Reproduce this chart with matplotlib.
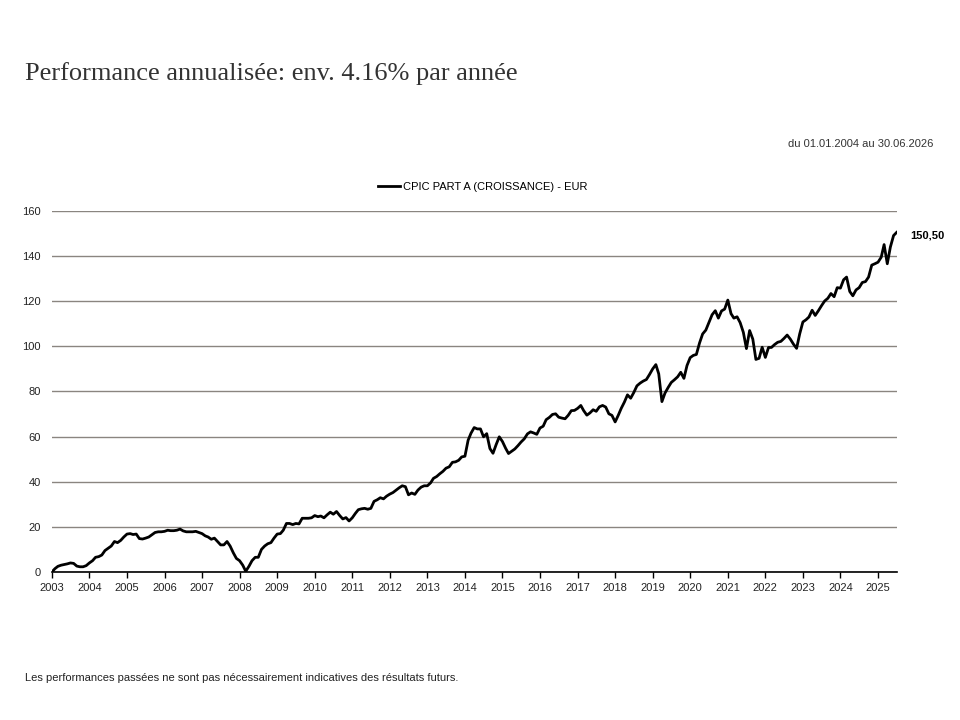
import numpy as np
import pandas as pd
import matplotlib
matplotlib.use("Agg")
import matplotlib.pyplot as plt
import matplotlib.dates as mdates

# monthly values, Jan 2003 .. Jul 2025
v2003 = [0.0, 1.5, 2.5, 3.0, 3.3, 3.6, 4.0, 3.8, 2.6, 2.3, 2.3, 2.8]
v2004 = [4.0, 5.0, 6.5, 6.8, 7.5, 9.5, 10.5, 11.5, 13.5, 13.0, 14.0, 15.5]
v2005 = [16.8, 17.0, 16.6, 16.8, 14.8, 14.6, 15.0, 15.5, 16.5, 17.5, 17.8, 17.8]
v2006 = [18.0, 18.5, 18.3, 18.3, 18.5, 19.0, 18.2, 17.8, 17.8, 17.8, 18.0, 17.5]
v2007 = [17.0, 16.0, 15.5, 14.5, 15.0, 13.5, 12.0, 12.0, 13.5, 11.5, 8.5, 6.0]
v2008 = [5.0, 3.0, 0.3, 2.5, 5.0, 6.5, 6.5, 10.0, 11.5, 12.5, 13.0, 15.0]
v2009 = [16.8, 17.0, 18.5, 21.5, 21.5, 21.0, 21.5, 21.3, 23.8, 23.8, 23.8, 24.0]
v2010 = [25.0, 24.5, 24.8, 24.0, 25.3, 26.5, 25.6, 26.8, 25.0, 23.5, 24.1, 22.6]
v2011 = [24.0, 26.0, 27.6, 28.0, 28.2, 27.8, 28.2, 31.3, 32.0, 32.9, 32.4, 33.6]
v2012 = [34.5, 35.2, 36.2, 37.3, 38.2, 37.8, 34.2, 35.0, 34.4, 36.3, 37.6, 38.2]
v2013 = [38.2, 39.5, 41.5, 42.3, 43.5, 44.6, 46.0, 46.6, 48.6, 48.8, 49.5, 51.0]
v2014 = [51.3, 58.4, 61.5, 64.0, 63.4, 63.4, 59.9, 61.3, 54.7, 52.6, 56.5, 59.9]
v2015 = [57.8, 54.8, 52.5, 53.5, 54.5, 56.0, 57.6, 59.0, 61.2, 62.1, 61.6, 61.0]
v2016 = [63.8, 64.6, 67.5, 68.5, 69.8, 70.1, 68.6, 68.2, 67.9, 69.4, 71.5, 71.6]
v2017 = [72.5, 73.8, 71.5, 69.5, 70.5, 71.9, 71.2, 73.2, 73.8, 73.1, 70.1, 69.4]
v2018 = [66.5, 69.5, 72.5, 75.3, 78.5, 77.0, 79.5, 82.5, 83.7, 84.6, 85.3, 87.5]
v2019 = [90.0, 91.9, 87.8, 75.5, 79.3, 81.8, 84.0, 85.2, 86.5, 88.5, 85.8, 91.5]
v2020 = [95.0, 96.0, 96.4, 101.5, 105.5, 107.2, 110.5, 114.0, 115.8, 112.5, 115.7, 116.5]
v2021 = [120.5, 114.5, 112.5, 113.1, 110.5, 106.2, 99.0, 107.0, 103.2, 94.2, 94.7, 99.6]
v2022 = [95.1, 99.5, 99.5, 100.8, 101.8, 102.2, 103.5, 105.0, 103.2, 101.0, 99.1, 105.5]
v2023 = [110.8, 111.8, 113.0, 116.0, 113.7, 115.8, 118.0, 120.1, 121.3, 123.4, 122.0, 126.0]
v2024 = [125.8, 129.5, 130.7, 124.3, 122.4, 125.0, 126.0, 128.3, 128.7, 130.7, 136.0, 136.6]
v2025 = [137.3, 139.5, 145.1, 136.6, 144.0, 149.1, 150.5]

values = (v2003 + v2004 + v2005 + v2006 + v2007 + v2008 + v2009 + v2010 +
          v2011 + v2012 + v2013 + v2014 + v2015 + v2016 + v2017 + v2018 +
          v2019 + v2020 + v2021 + v2022 + v2023 + v2024 + v2025)
dates = pd.date_range("2003-01-01", periods=len(values), freq="MS")

series_name = "CPIC PART A (CROISSANCE) - EUR"
last_label = "150,50"

plt.rcParams['font.family'] = ['Liberation Sans', 'DejaVu Sans']

fig = plt.figure(figsize=(9.6, 7.2), dpi=100)
ax = fig.add_axes([0.054, 0.2056, 0.88, 0.5014])

ax.plot(dates, values, '-k', lw=2, label=series_name)

ax.set_xlim(pd.Timestamp("2003-01-01"), dates[-1])
ax.set_ylim(0, 160)
ax.set_yticks(np.arange(0, 161, 20))
ax.yaxis.grid(True, color='#8a8580', lw=1)
ax.set_axisbelow(True)
ax.xaxis.set_major_locator(mdates.YearLocator())
ax.xaxis.set_major_formatter(mdates.DateFormatter('%Y'))

for s in ['top', 'right', 'left']:
    ax.spines[s].set_visible(False)
ax.spines['bottom'].set_color('black')
ax.spines['bottom'].set_linewidth(1.2)
ax.tick_params(axis='y', length=0, pad=8, labelsize=8, labelcolor='#222222')
ax.tick_params(axis='x', length=4, width=1, direction='out', labelsize=8,
               labelcolor='#222222', pad=4)

ax.annotate(last_label, (dates[-1], values[-1]), xytext=(10, -2),
            textcoords='offset points', fontsize=8, fontweight='bold',
            va='center', ha='left')

ax.legend(loc='lower center', bbox_to_anchor=(0.51, 1.025), frameon=False,
          fontsize=8, handlelength=2.0, handletextpad=0.2)

fig.text(0.026, 0.898, "Performance annualisée: env. 4.16% par année",
         family='Liberation Serif', fontsize=19, color='#333333', va='center')
fig.text(0.972, 0.8, "du 01.01.2004 au 30.06.2026", fontsize=8,
         color='#333333', ha='right', va='center')
fig.text(0.026, 0.058, "Les performances passées ne sont pas nécessairement "
         "indicatives des résultats futurs.", fontsize=8, color='#222222',
         va='center')

fig.savefig("out.png", dpi=100)
